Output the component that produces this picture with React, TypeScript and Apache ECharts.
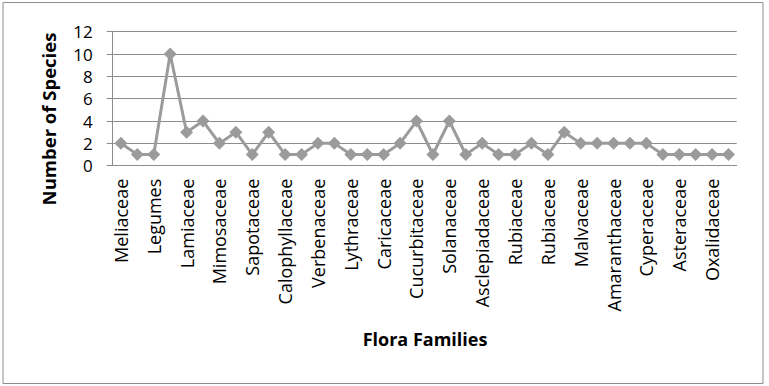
import React, { useEffect, useRef } from "react";
import * as echarts from "echarts";

const categories: string[] = [
  "Meliaceae", "", "Legumes", "", "Lamiaceae", "", "Mimosaceae", "", "Sapotaceae", "",
  "Calophyllaceae", "", "Verbenaceae", "", "Lythraceae", "", "Caricaceae", "", "Cucurbitaceae", "",
  "Solanaceae", "", "Asclepiadaceae", "", "Rubiaceae", "", "Rubiaceae", "", "Malvaceae", "",
  "Amaranthaceae", "", "Cyperaceae", "", "Asteraceae", "", "Oxalidaceae", "",
];

const species: number[] = [
  2, 1, 1, 10, 3, 4, 2, 3, 1, 3,
  1, 1, 2, 2, 1, 1, 1, 2, 4, 1,
  4, 1, 2, 1, 1, 2, 1, 3, 2, 2,
  2, 2, 2, 1, 1, 1, 1, 1,
];

const yTicks = { min: 0, max: 12, interval: 2 };
const xTitle = "Flora Families";
const yTitle = "Number of Species";

const FONT = "'Open Sans', 'Noto Sans', sans-serif";

export default function App() {
  const ref = useRef<HTMLDivElement>(null);
  useEffect(() => {
    if (!ref.current) return;
    const chart = echarts.init(ref.current, undefined, { renderer: "svg" });
    chart.setOption({
      animation: false,
      backgroundColor: "#ffffff",
      textStyle: { fontFamily: FONT },
      grid: { left: 112.7, right: 32.3, top: 31.7, bottom: 220.3, containLabel: false },
      xAxis: {
        type: "category",
        data: categories,
        boundaryGap: true,
        axisLine: { show: true, lineStyle: { color: "#8c8c8c", width: 1 } },
        axisTick: { show: false },
        axisLabel: {
          interval: 0,
          rotate: 90,
          margin: 13,
          color: "#000000",
          fontSize: 18,
          fontFamily: FONT,
        },
        splitLine: { show: false },
      },
      yAxis: {
        type: "value",
        min: yTicks.min,
        max: yTicks.max,
        interval: yTicks.interval,
        axisLine: { show: true, lineStyle: { color: "#8c8c8c", width: 1 } },
        axisTick: { show: true, length: 6, lineStyle: { color: "#8c8c8c" } },
        axisLabel: { color: "#000000", fontSize: 17, margin: 20, fontFamily: FONT },
        splitLine: { show: true, lineStyle: { color: "#8c8c8c", width: 1 } },
      },
      graphic: [
        {
          type: "rect",
          shape: { x: 3, y: 2.5, width: 760, height: 381 },
          style: { fill: "none", stroke: "#8c8c8c", lineWidth: 1 },
          silent: true,
        },
        {
          type: "text",
          x: 425,
          y: 339,
          style: {
            text: xTitle,
            fontFamily: FONT,
            fontSize: 18,
            fontWeight: "bold",
            fill: "#000000",
            textAlign: "center",
            textVerticalAlign: "middle",
          },
        },
        {
          type: "text",
          x: 48,
          y: 119,
          rotation: Math.PI / 2,
          style: {
            text: yTitle,
            fontFamily: FONT,
            fontSize: 18.5,
            fontWeight: "bold",
            fill: "#000000",
            textAlign: "center",
            textVerticalAlign: "middle",
          },
        },
      ],
      series: [
        {
          type: "line",
          data: species,
          symbol: "diamond",
          symbolSize: 13,
          showAllSymbol: true,
          itemStyle: { color: "#9b9b9b" },
          lineStyle: { color: "#9b9b9b", width: 3 },
        },
      ],
    });
    return () => chart.dispose();
  }, []);
  return (
    <div
      ref={ref}
      style={{ position: "fixed", left: 0, top: 0, width: 769, height: 386 }}
    />
  );
}
